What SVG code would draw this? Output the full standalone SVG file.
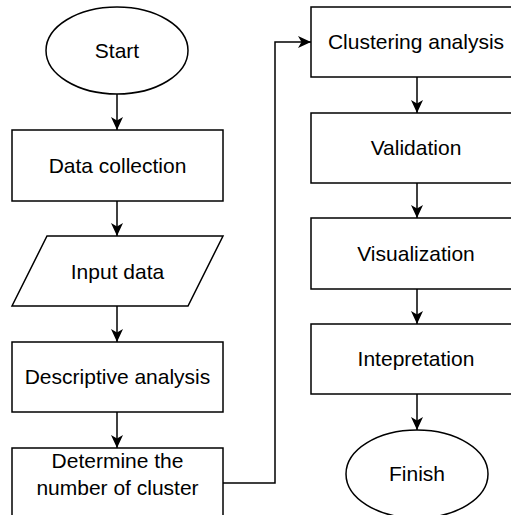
<svg xmlns="http://www.w3.org/2000/svg" width="511" height="515" viewBox="0 0 511 515">
<style>
.s{fill:#fff;stroke:#000;stroke-width:1.5}
.t{font-family:"Liberation Sans",Arial,sans-serif;font-size:21px;fill:#000;text-anchor:middle}
.c{fill:none;stroke:#000;stroke-width:1.5}
</style>
<defs>
<marker id="a" markerWidth="13" markerHeight="13" viewBox="0 0 13 13" refX="13" refY="6.5" orient="auto" markerUnits="userSpaceOnUse">
<path d="M0,0.5 L13,6.5 L0,12.5 L3.5,6.5 Z" fill="#000"/>
</marker>
</defs>
<rect width="511" height="515" fill="#fff"/>
<g id="connectors">
<path class="c" d="M117,94 V130" marker-end="url(#a)"/>
<path class="c" d="M117,201 V236" marker-end="url(#a)"/>
<path class="c" d="M117,306 V342" marker-end="url(#a)"/>
<path class="c" d="M117,412 V448" marker-end="url(#a)"/>
<path class="c" d="M223,483 H275 V42 H311" marker-end="url(#a)"/>
<path class="c" d="M417,77 V113" marker-end="url(#a)"/>
<path class="c" d="M417,183 V218" marker-end="url(#a)"/>
<path class="c" d="M417,289 V324" marker-end="url(#a)"/>
<path class="c" d="M417,394 V430" marker-end="url(#a)"/>
</g>
<g id="start"><ellipse class="s" cx="117" cy="50.5" rx="71" ry="43.5"/><text class="t" x="117" y="58">Start</text></g>
<g id="data-collection"><rect class="s" x="12" y="130" width="211" height="71"/><text class="t" x="117.5" y="173">Data collection</text></g>
<g id="input-data"><polygon class="s" points="47,236 223,236 188,306 12,306"/><text class="t" x="117.5" y="279">Input data</text></g>
<g id="descriptive"><rect class="s" x="12" y="342" width="211" height="70"/><text class="t" x="117.5" y="384">Descriptive analysis</text></g>
<g id="determine"><rect class="s" x="12" y="448" width="211" height="71"/><text class="t" x="117.5" y="468">Determine the</text><text class="t" x="117.5" y="495">number of cluster</text></g>
<g id="clustering"><rect class="s" x="311" y="7" width="211" height="70"/><text class="t" x="416" y="49">Clustering analysis</text></g>
<g id="validation"><rect class="s" x="311" y="113" width="211" height="70"/><text class="t" x="416" y="155">Validation</text></g>
<g id="visualization"><rect class="s" x="311" y="218" width="211" height="71"/><text class="t" x="416" y="261">Visualization</text></g>
<g id="interpretation"><rect class="s" x="311" y="324" width="211" height="70"/><text class="t" x="416" y="366">Intepretation</text></g>
<g id="finish"><ellipse class="s" cx="417" cy="474" rx="71" ry="44"/><text class="t" x="417" y="481">Finish</text></g>
</svg>
